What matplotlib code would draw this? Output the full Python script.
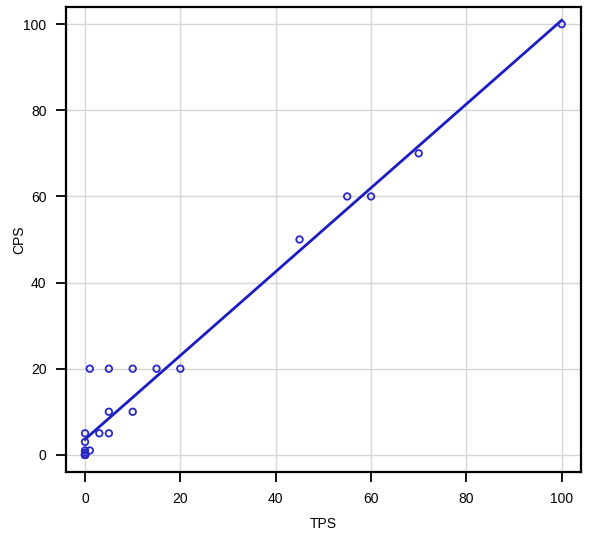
import matplotlib
matplotlib.use('Agg')
import matplotlib.pyplot as plt
import numpy as np

# TPS vs CPS values (several cases overlap at 0,0)
tps = [0, 0, 0, 0, 0, 0, 0, 1, 0, 0, 3, 5, 5, 10, 1, 5, 10, 15, 20, 45, 55, 60, 70, 100]
cps = [0, 0, 0, 0, 0, 0.5, 1, 1, 3, 5, 5, 5, 10, 10, 20, 20, 20, 20, 20, 50, 60, 60, 70, 100]
ticks = [0, 20, 40, 60, 80, 100]

plt.rcParams['font.family'] = ['Liberation Sans', 'DejaVu Sans']

fig = plt.figure(figsize=(5.89, 5.34), dpi=100)
ax = fig.add_axes([0.112, 0.116, 0.874, 0.871])

# linear fit over the observed TPS range
slope, icpt = np.polyfit(tps, cps, 1)
xs = np.array([min(tps), max(tps)])
ax.plot(xs, icpt + slope * xs, color='#1c1cc4', lw=2, zorder=3)

ax.scatter(tps, cps, s=22, facecolors='none', edgecolors='#2828c8', linewidths=1.3, zorder=4)

ax.set_xlim(-4, 104)
ax.set_ylim(-4, 104)
ax.set_xticks(ticks)
ax.set_yticks(ticks)
ax.grid(True, color='#d6d6d6', lw=1)
ax.set_axisbelow(True)

for s in ax.spines.values():
    s.set_linewidth(1.6)
ax.tick_params(length=7, width=1.3, labelsize=10, pad=7)
ax.set_xlabel('TPS', fontsize=10, va='center')
ax.set_ylabel('CPS', fontsize=10, va='center')
ax.xaxis.set_label_coords(0.5, -0.112)
ax.yaxis.set_label_coords(-0.09, 0.5)

fig.savefig('out.png', dpi=100)
